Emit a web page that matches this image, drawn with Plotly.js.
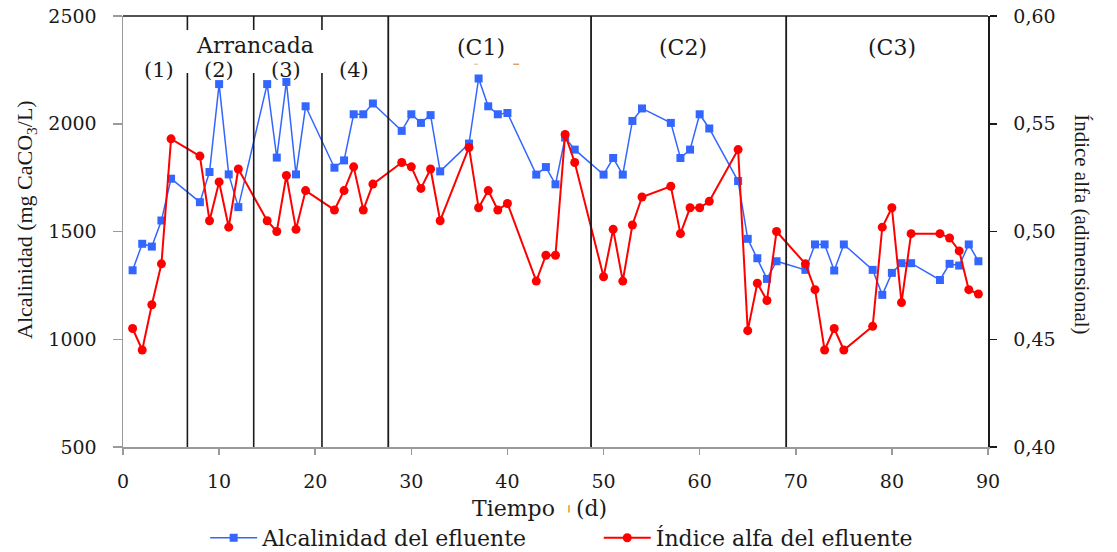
<!DOCTYPE html>
<html>
<head>
<meta charset="utf-8">
<script src="https://cdn.plot.ly/plotly-3.0.1.min.js"></script>
<style>
  html, body { margin: 0; padding: 0; background: #fff; }
  #chart { width: 1117px; height: 552px; }
</style>
</head>
<body>
<div id="chart"></div>
<script>
// Sampling days (d)
const days = [1, 2, 3, 4, 5, 8, 9, 10, 11, 12, 15, 16, 17, 18, 19, 22, 23, 24, 25, 26,
  29, 30, 31, 32, 33, 36, 37, 38, 39, 40, 43, 44, 45, 46, 47, 50, 51, 52, 53, 54,
  57, 58, 59, 60, 61, 64, 65, 66, 67, 68, 71, 72, 73, 74, 75, 78, 79, 80, 81, 82,
  85, 86, 87, 88, 89];

// Effluent alkalinity (mg CaCO3/L)
const alkalinity = [1320, 1443, 1430, 1551, 1745, 1636, 1776, 2184, 1765, 1613,
  2184, 1843, 2194, 1765, 2081, 1796, 1830, 2044, 2044, 2094,
  1967, 2044, 2004, 2040, 1779, 1908, 2210, 2081, 2044, 2050,
  1764, 1799, 1719, 1936, 1880, 1764, 1841, 1764, 2013, 2071,
  2004, 1841, 1880, 2044, 1978, 1734, 1466, 1376, 1280, 1362,
  1322, 1440, 1440, 1319, 1440, 1322, 1206, 1308, 1353, 1353,
  1275, 1350, 1342, 1440, 1362];

// Effluent alpha index (dimensionless)
const alphaIndex = [0.455, 0.445, 0.466, 0.485, 0.543, 0.535, 0.505, 0.523, 0.502, 0.529,
  0.505, 0.500, 0.526, 0.501, 0.519, 0.510, 0.519, 0.530, 0.510, 0.522,
  0.532, 0.530, 0.520, 0.529, 0.505, 0.539, 0.511, 0.519, 0.510, 0.513,
  0.477, 0.489, 0.489, 0.545, 0.532, 0.479, 0.501, 0.477, 0.503, 0.516,
  0.521, 0.499, 0.511, 0.511, 0.514, 0.538, 0.454, 0.476, 0.468, 0.500,
  0.485, 0.473, 0.445, 0.455, 0.445, 0.456, 0.502, 0.511, 0.467, 0.499,
  0.499, 0.497, 0.491, 0.473, 0.471];

// Phase boundaries (d): start-up sub-phases, then C1 / C2 / C3
const startupBounds = [6.7, 13.6, 20.7];
const phaseBounds = [27.6, 48.7, 69];

// Phase labels and their centre day
const startupLabels = ['(1)', '(2)', '(3)', '(4)'];
const startupLabelDays = [3.75, 10, 17, 24];
const phaseLabels = ['(C1)', '(C2)', '(C3)'];
const phaseLabelDays = [37.2, 58.3, 80];
const startupTitle = 'Arrancada';
const startupTitleDay = 13.7;

const xTicks = [0, 10, 20, 30, 40, 50, 60, 70, 80, 90];
const yTicks = [500, 1000, 1500, 2000, 2500];
const y2Ticks = [0.40, 0.45, 0.50, 0.55, 0.60];
const y2TickText = ['0,40', '0,45', '0,50', '0,55', '0,60'];

const SERIF_WIDE = 'DejaVu Serif, serif';
const SERIF = 'Liberation Serif, Times New Roman, serif';
const INK = '#1a1a1a';
const AXIS_GREY = '#9a9a9a';

const traces = [
  {
    x: days, y: alkalinity, name: 'Alcalinidad del efluente',
    type: 'scatter', mode: 'lines+markers', yaxis: 'y', legend: 'legend',
    line: { color: 'rgb(51,102,255)', width: 1.5 },
    marker: { symbol: 'square', size: 8, color: 'rgb(51,102,255)' }
  },
  {
    x: days, y: alphaIndex, name: 'Índice alfa del efluente',
    type: 'scatter', mode: 'lines+markers', yaxis: 'y2', legend: 'legend2',
    line: { color: 'rgb(255,0,0)', width: 2 },
    marker: { symbol: 'circle', size: 9, color: 'rgb(255,0,0)' }
  }
];

// Vertical phase dividers
const shapes = [];
startupBounds.forEach(d => {
  shapes.push({ type: 'line', xref: 'x', yref: 'paper', x0: d, x1: d, y0: 0.9675, y1: 1,
    line: { color: INK, width: 1.6 } });
  shapes.push({ type: 'line', xref: 'x', yref: 'paper', x0: d, x1: d, y0: 0, y1: 0.868,
    line: { color: INK, width: 1.6 } });
});
phaseBounds.forEach(d => {
  shapes.push({ type: 'line', xref: 'x', yref: 'paper', x0: d, x1: d, y0: 0, y1: 1,
    line: { color: INK, width: 1.8 } });
});
// Top frame line
shapes.push({ type: 'line', xref: 'paper', yref: 'paper', x0: 0, x1: 1, y0: 1, y1: 1,
  line: { color: INK, width: 1.5 } });
// Small stray pen marks
shapes.push({ type: 'line', xref: 'paper', yref: 'paper', x0: 0.406, x1: 0.410, y0: 0.888, y1: 0.888,
  line: { color: '#f0c8a0', width: 1.5 } });
shapes.push({ type: 'line', xref: 'paper', yref: 'paper', x0: 0.451, x1: 0.458, y0: 0.888, y1: 0.888,
  line: { color: '#e0a070', width: 1.5 } });
shapes.push({ type: 'line', xref: 'paper', yref: 'paper', x0: 0.5156, x1: 0.5156, y0: -0.135, y1: -0.152,
  line: { color: '#f5b040', width: 2 } });

const centred = { showarrow: false, xanchor: 'center', yanchor: 'middle' };
const annotations = [];
startupLabels.forEach((t, i) => annotations.push(Object.assign({
  text: t, x: startupLabelDays[i], xref: 'x', y: 0.8747, yref: 'paper',
  font: { family: SERIF_WIDE, size: 21, color: INK }
}, centred)));
annotations.push(Object.assign({
  text: startupTitle, x: startupTitleDay, xref: 'x', y: 0.932, yref: 'paper',
  font: { family: SERIF_WIDE, size: 22, color: INK }
}, centred));
phaseLabels.forEach((t, i) => annotations.push(Object.assign({
  text: t, x: phaseLabelDays[i], xref: 'x', y: 0.928, yref: 'paper',
  font: { family: SERIF_WIDE, size: 22, color: INK }
}, centred)));
// Axis titles
annotations.push(Object.assign({
  text: 'Tiempo\u00a0\u00a0\u00a0(d)', x: 0.482, xref: 'paper', y: -0.142, yref: 'paper',
  font: { family: SERIF_WIDE, size: 22, color: INK }
}, centred));
annotations.push(Object.assign({
  text: 'Alcalinidad (mg CaCO<sub>3</sub>/L)', x: -0.112, xref: 'paper', y: 0.527, yref: 'paper',
  textangle: -90, font: { family: SERIF, size: 22, color: INK }
}, centred));
annotations.push(Object.assign({
  text: 'Índice alfa (adimensional)', x: 1.1087, xref: 'paper', y: 0.517, yref: 'paper',
  textangle: 90, font: { family: SERIF, size: 21, color: INK }
}, centred));

const layout = {
  width: 1117, height: 552,
  margin: { l: 123, r: 129, t: 16, b: 105, pad: 0, autoexpand: false },
  paper_bgcolor: '#fff', plot_bgcolor: '#fff',
  showlegend: true,
  xaxis: {
    range: [0, 90], tickvals: xTicks, showgrid: false, zeroline: false,
    showline: true, linecolor: AXIS_GREY, linewidth: 1.5,
    ticks: 'outside', ticklen: 6, tickcolor: AXIS_GREY, tickwidth: 1.5,
    ticklabelstandoff: 11,
    tickfont: { family: SERIF_WIDE, size: 19, color: INK }
  },
  yaxis: {
    range: [500, 2500], tickvals: yTicks, showgrid: false, zeroline: false,
    showline: true, linecolor: AXIS_GREY, linewidth: 1.5,
    ticks: 'outside', ticklen: 9, tickcolor: AXIS_GREY, tickwidth: 1.5,
    ticklabelstandoff: 12,
    tickfont: { family: SERIF_WIDE, size: 19, color: INK }
  },
  yaxis2: {
    range: [0.40, 0.60], tickvals: y2Ticks, ticktext: y2TickText,
    overlaying: 'y', side: 'right', showgrid: false, zeroline: false,
    showline: true, linecolor: INK, linewidth: 1.5,
    ticks: 'outside', ticklen: 7, tickcolor: INK, tickwidth: 1.5,
    ticklabelstandoff: 13,
    tickfont: { family: SERIF_WIDE, size: 19, color: INK }
  },
  legend: {
    orientation: 'h', x: 0.095, xanchor: 'left', y: -0.211, yanchor: 'middle',
    itemwidth: 47,
    bgcolor: 'rgba(0,0,0,0)', borderwidth: 0,
    font: { family: SERIF_WIDE, size: 22, color: INK }
  },
  legend2: {
    orientation: 'h', x: 0.55, xanchor: 'left', y: -0.211, yanchor: 'middle',
    itemwidth: 47,
    bgcolor: 'rgba(0,0,0,0)', borderwidth: 0,
    font: { family: SERIF_WIDE, size: 22, color: INK }
  },
  shapes: shapes,
  annotations: annotations
};

Plotly.newPlot('chart', traces, layout, { displayModeBar: false, staticPlot: true });
</script>
</body>
</html>
